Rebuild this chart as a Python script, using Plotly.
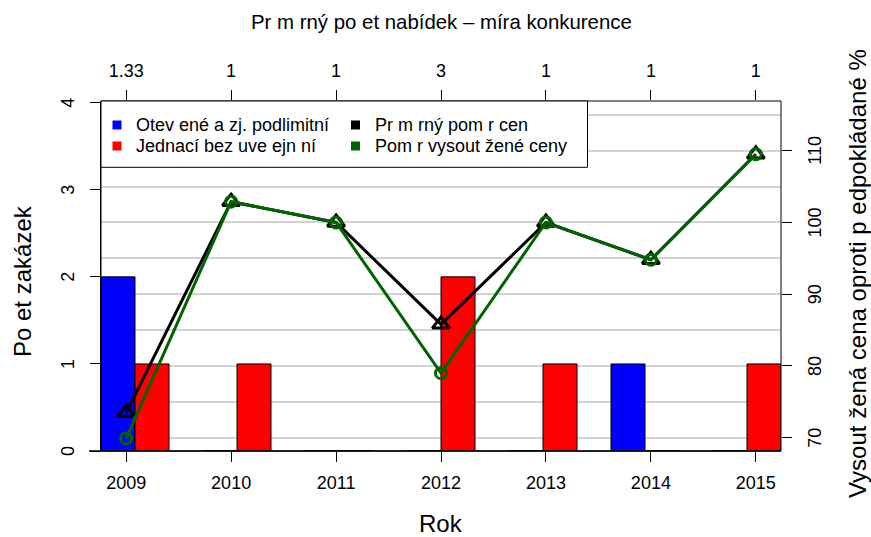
import plotly.graph_objects as go

# ---- data ----
years = [2009, 2010, 2011, 2012, 2013, 2014, 2015]
otevrene = [2, 0, 0, 0, 0, 1, 0]          # Otevřené a zj. podlimitní
jednaci = [1, 1, 0, 2, 1, 0, 1]           # Jednací bez uveřejnění
prumerny_pomer = [73.5, 102.9, 100.0, 85.8, 100.0, 94.8, 109.5]   # Průměrný poměr cen
pomer_vysout = [69.9, 102.9, 100.0, 79.0, 100.0, 94.8, 109.5]     # Poměr vysoutěžené ceny
nabidky = ["1.33", "1", "1", "3", "1", "1", "1"]                  # Průměrný počet nabídek
left_ticks = [0, 1, 2, 3, 4]
right_ticks = [70, 80, 90, 100, 110]
right_minor = [75, 85, 95, 105, 115]

W, H = 871, 537
PL, PR, PT, PB = 101, 781, 101, 451
FONT = "Liberation Sans, Arial, Helvetica, sans-serif"


def px(x):
    return (x - PL) / (PR - PL)


def py(y):
    return (PB - y) / (PB - PT)


# bar slots (R barplot beside=TRUE, space=c(0,1))
blue_x = [3 * i + 1.5 for i in range(len(years))]
red_x = [3 * i + 2.5 for i in range(len(years))]

fig = go.Figure()
fig.add_trace(go.Bar(x=blue_x, y=otevrene, width=1, xaxis="x", yaxis="y",
                     marker=dict(color="#0000FF", line=dict(color="black", width=1)),
                     showlegend=False, hoverinfo="skip"))
fig.add_trace(go.Bar(x=red_x, y=jednaci, width=1, xaxis="x", yaxis="y",
                     marker=dict(color="#FF0000", line=dict(color="black", width=1)),
                     showlegend=False, hoverinfo="skip"))
fig.add_trace(go.Scatter(x=years, y=prumerny_pomer, xaxis="x2", yaxis="y2",
                         mode="lines+markers", line=dict(color="black", width=3),
                         marker=dict(symbol="triangle-up-open", size=15, color="black",
                                     line=dict(width=3, color="black")),
                         showlegend=False, cliponaxis=False))
fig.add_trace(go.Scatter(x=years, y=pomer_vysout, xaxis="x2", yaxis="y2",
                         mode="lines+markers", line=dict(color="#006400", width=3),
                         marker=dict(symbol="circle-open", size=11, color="#006400",
                                     line=dict(width=3, color="#006400")),
                         showlegend=False, cliponaxis=False))
# carrier for the top axis (average bids)
fig.add_trace(go.Scatter(x=years, y=[None] * len(years), xaxis="x3", yaxis="y2",
                         mode="markers", showlegend=False, hoverinfo="skip"))

tickfont = dict(family=FONT, size=18, color="black")

fig.update_layout(
    width=W, height=H,
    margin=dict(l=PL, r=W - PR, t=PT, b=H - PB, pad=0),
    paper_bgcolor="white", plot_bgcolor="white",
    barmode="overlay", showlegend=False,
    font=dict(family=FONT, color="black"),
    xaxis=dict(range=[1, 21], visible=False, fixedrange=True),
    xaxis2=dict(overlaying="x", anchor="y", side="bottom", range=[2008.76, 2015.24],
                tickmode="array", tickvals=years, ticktext=[str(y) for y in years],
                ticks="outside", ticklen=10, tickwidth=1, tickcolor="black",
                tickfont=tickfont, showgrid=False, zeroline=False, showline=False,
                ticklabelstandoff=5),
    xaxis3=dict(overlaying="x", anchor="y", side="top", range=[2008.76, 2015.24],
                tickmode="array", tickvals=years, ticktext=nabidky,
                ticks="outside", ticklen=10, tickwidth=1, tickcolor="black",
                tickfont=tickfont, showgrid=False, zeroline=False, showline=False,
                ticklabelstandoff=6),
    yaxis=dict(range=[0, 4.02], tickmode="array", tickvals=left_ticks,
               ticks="outside", ticklen=10, tickwidth=1, tickcolor="black",
               showticklabels=False, showgrid=False, zeroline=False,
               showline=True, linecolor="black", linewidth=1),
    yaxis2=dict(overlaying="y", anchor="x", side="right", range=[68.15, 116.93],
                tickmode="array", tickvals=right_ticks,
                ticks="outside", ticklen=10, tickwidth=1, tickcolor="black",
                showticklabels=False, zeroline=False,
                showgrid=True, gridcolor="#d3d3d3", gridwidth=1.5,
                minor=dict(tickmode="array", tickvals=right_minor,
                           showgrid=True, gridcolor="#d3d3d3", gridwidth=1.5, ticks=""),
                showline=False),
)

shapes = []
# plot box
shapes.append(dict(type="rect", xref="paper", yref="paper", x0=0, x1=1, y0=0, y1=1,
                   line=dict(color="black", width=1), fillcolor="rgba(0,0,0,0)", layer="above"))
# baseline
shapes.append(dict(type="line", xref="paper", yref="paper", x0=px(89), x1=1, y0=0, y1=0,
                   line=dict(color="black", width=1.5), layer="above"))
# legend box
shapes.append(dict(type="rect", xref="paper", yref="paper", x0=0, x1=px(587.5),
                   y0=py(167.3), y1=1, line=dict(color="black", width=1),
                   fillcolor="white", layer="above"))

leg_items = [
    ("Otev ené a zj. podlimitní", "#0000FF", 117, 125, 134),
    ("Jednací bez uve ejn ní", "#FF0000", 117, 146, 134),
    ("Pr m rný pom r cen", "black", 355.5, 125, 373),
    ("Pom r vysout žené ceny", "#006400", 355.5, 146, 373),
]
annotations = []
for text, col, sx, sy, tx in leg_items:
    shapes.append(dict(type="rect", xref="paper", yref="paper",
                       x0=px(sx - 4.5), x1=px(sx + 4.5), y0=py(sy + 4.5), y1=py(sy - 4.5),
                       line=dict(width=0), fillcolor=col, layer="above"))
    annotations.append(dict(text=text, xref="paper", yref="paper", x=px(tx), y=py(sy),
                            xanchor="left", yanchor="middle", showarrow=False,
                            font=dict(family=FONT, size=18, color="black")))

# rotated y tick labels (R las=0 style)
for v in left_ticks:
    annotations.append(dict(text=str(v), xref="paper", yref="y", x=px(68), y=v,
                            xanchor="center", yanchor="middle", textangle=-90,
                            showarrow=False, font=tickfont))
for v in right_ticks:
    annotations.append(dict(text=str(v), xref="paper", yref="y2", x=px(815), y=v,
                            xanchor="center", yanchor="middle", textangle=-90,
                            showarrow=False, font=tickfont))

annotations += [
    dict(text="Pr m rný po et nabídek – míra konkurence", xref="paper", yref="paper",
         x=0.5, y=py(22), xanchor="center", yanchor="middle", showarrow=False,
         font=dict(family=FONT, size=20.4, color="black")),
    dict(text="Rok", xref="paper", yref="paper", x=0.5, y=py(523),
         xanchor="center", yanchor="middle", showarrow=False,
         font=dict(family=FONT, size=24, color="black")),
    dict(text="Po et zakázek", xref="paper", yref="paper", x=px(22), y=py(281),
         xanchor="center", yanchor="middle", textangle=-90, showarrow=False,
         font=dict(family=FONT, size=24, color="black")),
    dict(text="Vysout žená cena oproti p edpokládané %", xref="paper", yref="paper",
         x=px(857), y=py(274), xanchor="center", yanchor="middle", textangle=-90,
         showarrow=False, font=dict(family=FONT, size=24, color="black")),
]

fig.update_layout(shapes=shapes, annotations=annotations)
fig.write_html("out.html", config={"displayModeBar": False},
               post_script="document.body.style.margin='0';")
